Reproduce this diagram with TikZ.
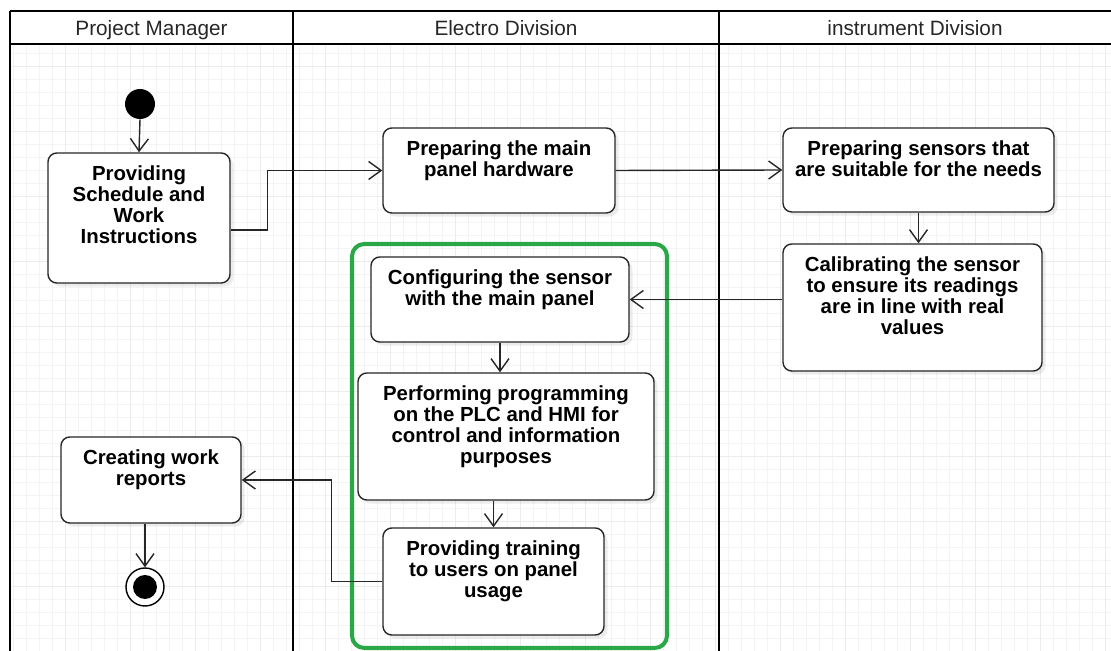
\documentclass[tikz,border=0pt]{standalone}
\usepackage{fontspec}
\setmainfont{Liberation Sans}
\usepackage{xcolor}
\usepackage{tikz}
\usetikzlibrary{arrows.meta,positioning,calc,shadows}
\definecolor{lanegreen}{RGB}{42,168,72}
\definecolor{gridgray}{RGB}{244,244,244}
\definecolor{gridmajor}{RGB}{236,236,236}
\newcommand{\acttext}[3]{\parbox[c][\dimexpr#2-14pt\relax][t]{#1}{\centering #3}}
\tikzset{
  actbox/.style={draw=black!85, rounded corners=5pt, line width=0.8pt, fill=white, inner xsep=0pt, inner ysep=7pt,
    drop shadow={opacity=0.15, shadow xshift=2pt, shadow yshift=-2pt},
    font=\fontsize{11.6pt}{12pt}\selectfont\bfseries},
  lanehead/.style={font=\fontsize{11.8pt}{13pt}\selectfont, text=black!85, text height=8.5pt, text depth=2.5pt},
  laneline/.style={draw=black, line width=1.6pt},
  groupbox/.style={draw=lanegreen, rounded corners=7pt, line width=2.3pt},
  startdot/.style={circle, fill=black, minimum size=0.6cm, inner sep=0pt},
  enddot/.style={circle, draw=black, line width=0.8pt, fill=white, minimum size=0.76cm, inner sep=0pt,
    path picture={\fill[black] (path picture bounding box.center) circle (0.24cm);}},
  flow/.style={-{Straight Barb[length=2.5mm, width=3.6mm]}, draw=black!85, line width=0.8pt}
}

\begin{document}
\begin{tikzpicture}[x=1cm,y=1cm]
  \useasboundingbox (0,0) rectangle (22.22,13.02);

  % background grid
  \draw[gridgray, line width=0.3pt, step=0.26] (0.2,0) grid (22.22,12.14);
  \draw[gridmajor, line width=0.4pt, step=1.3] (0.2,0) grid (22.22,12.14);

  % swimlanes
  \draw[laneline] (0.2,12.8) -- (22.22,12.8);
  \draw[laneline] (0.2,12.14) -- (22.22,12.14);
  \draw[laneline] (0.2,12.8) -- (0.2,0);
  \draw[laneline] (5.86,12.8) -- (5.86,0);
  \draw[laneline] (14.38,12.8) -- (14.38,0);

  \node[lanehead] (pmhead) at (3.03,12.41) {Project Manager};
  \node[lanehead] (elhead) at (10.12,12.41) {Electro Division};
  \node[lanehead] (inhead) at (18.3,12.41) {instrument Division};

  % electro group
  \draw[groupbox] (7.04,0.06) rectangle (13.34,8.14);

  \node[startdot] (start) at (2.8,10.94) {};

  \node[actbox] (sched) at (2.78,8.66) {\acttext{3.64cm}{2.6cm}{Providing\\Schedule and\\Work\\Instructions}};
  \node[actbox] (hw) at (9.98,9.61) {\acttext{4.64cm}{1.7cm}{Preparing the main\\panel hardware}};
  \node[actbox] (sens) at (18.37,9.62) {\acttext{5.42cm}{1.68cm}{Preparing sensors that\\are suitable for the needs}};
  \node[actbox] (calib) at (18.25,6.87) {\acttext{5.18cm}{2.54cm}{Calibrating the sensor\\to ensure its readings\\are in line with real\\values}};
  \node[actbox] (config) at (10.0,7.03) {\acttext{5.16cm}{1.7cm}{Configuring the sensor\\with the main panel}};
  \node[actbox] (prog) at (10.12,4.29) {\acttext{5.92cm}{2.54cm}{Performing programming\\on the PLC and HMI for\\control and information\\purposes}};
  \node[actbox] (train) at (9.87,1.39) {\acttext{4.42cm}{2.14cm}{Providing training\\to users on panel\\usage}};
  \node[actbox] (report) at (3.02,3.42) {\acttext{3.6cm}{1.72cm}{Creating work\\reports}};

  \node[enddot] (finish) at (2.9,1.28) {};

  \draw[flow] (start.south) -- (sched.north);
  \draw[flow] ([yshift=-0.24cm]sched.east) -- ++(0.74,0) |- (hw.west);
  \draw[flow] (hw.east) -- (sens.west);
  \draw[flow] (sens.south) -- (sens.south |- calib.north);
  \draw[flow] (calib.west |- config.east) -- (config.east);
  \draw[flow] (config.south) -- (config.south |- prog.north);
  \draw[flow] (train.north |- prog.south) -- (train.north);
  \draw[flow] (train.west) -- ++(-1.02,0) |- (report.east);
  \draw[flow] (finish |- report.south) -- (finish.north);
\end{tikzpicture}
\end{document}
